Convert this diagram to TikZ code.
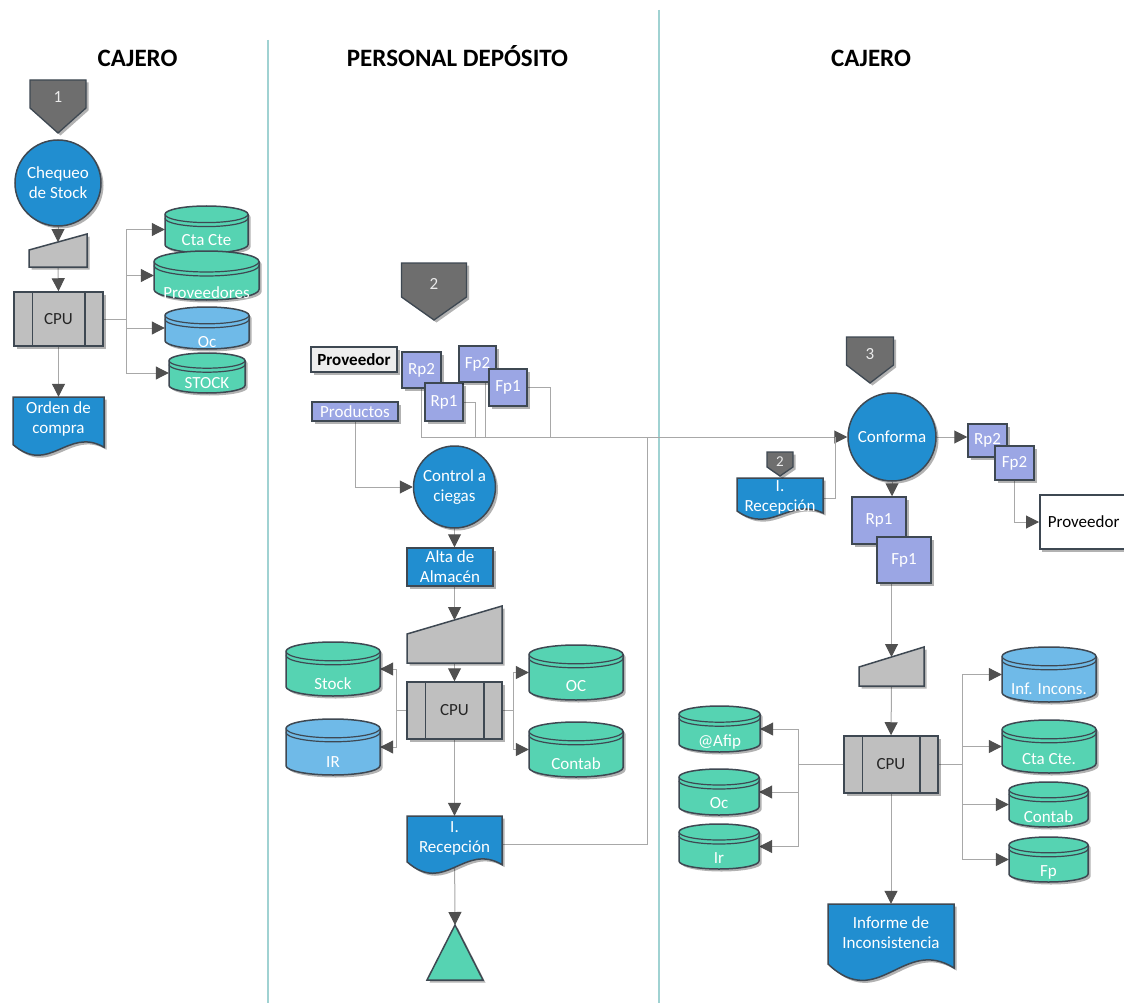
\documentclass[tikz,border=0pt]{standalone}
\usepackage{fontspec}
\setmainfont{Carlito}
\usetikzlibrary{arrows.meta,shadows}
\pgfdeclarelayer{bg}
\pgfsetlayers{bg,main}

\definecolor{procblue}{RGB}{33,142,208}
\definecolor{edge}{RGB}{62,72,82}
\definecolor{mint}{RGB}{86,211,178}
\definecolor{sky}{RGB}{111,186,232}
\definecolor{slab}{RGB}{191,191,191}
\definecolor{lav}{RGB}{155,166,228}
\definecolor{pent}{RGB}{110,110,110}
\definecolor{wire}{RGB}{168,168,168}
\definecolor{tipc}{RGB}{80,80,80}
\definecolor{lane}{RGB}{160,210,210}

\tikzset{
  shd/.style={drop shadow={shadow xshift=2.5pt,shadow yshift=-2.5pt,opacity=.3,fill=black}},
  txt/.style={font=\fontsize{17}{20}\selectfont, align=center},
  proc/.style={circle, draw=edge, line width=1.5pt, fill=procblue, text=white, txt, inner sep=0pt, shd},
  cpubox/.style={rectangle, draw=edge, line width=1.5pt, fill=slab, text=black!85, txt, inner sep=0pt, shd},
  ghost/.style={rectangle, inner sep=0pt, draw=none},
  tag/.style={rectangle, draw=edge, line width=1.5pt, fill=lav, text=white, txt, inner sep=0pt, shd},
  bluebox/.style={rectangle, draw=edge, line width=1.5pt, fill=procblue, text=white, txt, inner sep=0pt, shd},
  wirel/.style={draw=wire, line width=1pt},
  arr/.style={wirel, -{Triangle[length=13pt,width=13pt,color=tipc]}},
  head/.style={font=\fontsize{25}{30}\selectfont\bfseries, anchor=base},
  lanel/.style={draw=lane, line width=1.5pt},
}

% off-page connector: name, cx, top, width, side height, depth, label, font size
\newcommand\offpg[8]{%
  \path[draw=edge, line width=1.3pt, fill=pent, shd]
    ({#2-#4/2},#3) -- ({#2+#4/2},#3) -- ({#2+#4/2},{#3+#5}) -- (#2,{#3+#6})
    -- ({#2-#4/2},{#3+#5}) -- cycle;
  \node[ghost, text=white!92!black, font=\fontsize{#8}{#8}\selectfont] (#1) at (#2,{#3+#5*0.62}) {#7};
}

% manual input: name, left, right, top-left y, top-right y, bottom y
\newcommand\maninput[6]{%
  \path[draw=edge, line width=1.5pt, fill=slab, shd]
    (#2,#4) -- (#3,#5) -- (#3,#6) -- (#2,#6) -- cycle;
  \pgfmathsetmacro\mw{#3-#2}%
  \pgfmathsetmacro\mh{#6-#5}%
  \node[ghost, minimum width=\mw pt, minimum height=\mh pt] (#1) at ({(#2+#3)/2},{(#5+#6)/2}) {};
  \coordinate (#1-in) at ({(#2+#3)/2},{(#4+#5)/2});
}

% disk storage: name, cx, cy, width, height, fill, label, label offset
\newcommand\dbcyl[8]{%
  \pgfmathsetmacro\qL{#2-#4/2}%
  \pgfmathsetmacro\qR{#2+#4/2}%
  \pgfmathsetmacro\qT{#3-#5/2}%
  \pgfmathsetmacro\qB{#3+#5/2}%
  \pgfmathsetmacro\qr{0.1*#4}%
  \pgfmathsetmacro\qk{0.5523*\qr}%
  \pgfmathsetmacro\qkx{0.5523*#4/2}%
  \pgfmathsetmacro\qa{\qT+\qr}%
  \pgfmathsetmacro\qb{\qB-\qr}%
  \pgfmathsetmacro\qc{\qa+4}%
  \path[draw=edge, line width=1.5pt, fill=#6, shd]
    (\qL,\qa) -- (\qL,\qb)
    .. controls (\qL,{\qb+\qk}) and ({#2-\qkx},\qB) .. (#2,\qB)
    .. controls ({#2+\qkx},\qB) and (\qR,{\qb+\qk}) .. (\qR,\qb)
    -- (\qR,\qa)
    .. controls (\qR,{\qa-\qk}) and ({#2+\qkx},\qT) .. (#2,\qT)
    .. controls ({#2-\qkx},\qT) and (\qL,{\qa-\qk}) .. (\qL,\qa) -- cycle;
  \draw[edge, line width=1.2pt]
    (\qL,\qa) .. controls (\qL,{\qa+\qk}) and ({#2-\qkx},{\qa+\qr}) .. (#2,{\qa+\qr})
    .. controls ({#2+\qkx},{\qa+\qr}) and (\qR,{\qa+\qk}) .. (\qR,\qa)
    (\qL,\qc) .. controls (\qL,{\qc+\qk}) and ({#2-\qkx},{\qc+\qr}) .. (#2,{\qc+\qr})
    .. controls ({#2+\qkx},{\qc+\qr}) and (\qR,{\qc+\qk}) .. (\qR,\qc);
  \node[ghost, minimum width=#4pt, minimum height=#5pt] (#1) at (#2,#3) {};
  \node[txt, text=white, inner sep=0pt] (#1-t) at (#2,{#3+#8}) {#7};
}

% document: name, left, top, right, bottom, wave amplitude, label, label y
\newcommand\docshape[8]{%
  \pgfmathsetmacro\dw{#4-#2}%
  \pgfmathsetmacro\dh{#5-#3}%
  \path[draw=edge, line width=1.5pt, fill=procblue, shd]
    (#2,#3) -- (#4,#3) -- (#4,{#5-0.6*#6})
    .. controls ({#2+0.6*\dw},{#5-2.2*#6}) and ({#2+0.4*\dw},{#5+1.6*#6}) .. (#2,{#5-0.8*#6})
    -- cycle;
  \node[ghost, minimum width=\dw pt, minimum height=\dh pt] (#1) at ({(#2+#4)/2},{(#3+#5)/2}) {};
  \node[txt, text=white, inner sep=0pt] (#1-t) at ({(#2+#4)/2},#8) {#7};
}

% predefined process bars
\newcommand\cpubars[1]{%
  \draw[edge, line width=1.5pt]
    ([xshift=19pt]#1.north west) -- ([xshift=19pt]#1.south west)
    ([xshift=-19pt]#1.north east) -- ([xshift=-19pt]#1.south east);
}

\begin{document}
\begin{tikzpicture}[x=1pt,y=-1pt]
\useasboundingbox (0,0) rectangle (1124,1003);

% ---------- headings ----------
\node[head] (h1) at (137.5,67) {CAJERO};
\node[head] (h2) at (457.5,67) {PERSONAL DEPÓSITO};
\node[head] (h3) at (871,67) {CAJERO};

% ---------- first lane: cajero ----------
\offpg{off1}{58}{80}{56}{28}{53}{1}{17}
\node[proc, minimum size=86pt] (chq) at (58,183) {Chequeo\\de Stock};
\maninput{m1}{29}{87}{250}{234}{267}
\node[cpubox, minimum width=89pt, minimum height=54pt] (cpu1) at (58.5,319) {CPU};
\cpubars{cpu1}
\docshape{doc1}{13}{397}{104}{455}{13}{Orden de\\compra}{419}

\dbcyl{ctacte1}{206.5}{229.5}{83}{47}{mint}{Cta Cte}{10.5}
\dbcyl{prov1}{206.5}{275.5}{105}{49}{mint}{Proveedores}{17}
\dbcyl{oc1}{207}{328}{84}{42}{sky}{Oc}{14}
\dbcyl{stock1}{207}{373}{76}{40}{mint}{STOCK}{10}

% ---------- second lane: personal deposito ----------
\offpg{off2}{434}{263}{65}{34}{57}{2}{17}
\node[rectangle, draw=edge, line width=1.5pt, fill=black!7, inner sep=0pt, shd,
      font=\fontsize{17}{20}\selectfont\bfseries, minimum width=86pt, minimum height=25pt]
      (provm) at (354,359.5) {Proveedor};
\node[tag, minimum width=86pt, minimum height=19pt] (prod) at (355,411.5) {Productos};
\node[tag, minimum width=39pt, minimum height=36pt] (rp2m) at (421.5,370) {Rp2};
\node[tag, minimum width=38pt, minimum height=38pt] (rp1m) at (444,402) {Rp1};
\node[tag, minimum width=37pt, minimum height=36pt] (fp2m) at (477.5,364) {Fp2};
\node[tag, minimum width=38pt, minimum height=37pt] (fp1m) at (508,387.5) {Fp1};

\node[proc, minimum size=82pt] (ctrl) at (454.5,487) {Control a\\ciegas};
\node[bluebox, minimum width=86pt, minimum height=38pt] (alta) at (450,567) {Alta de\\Almacén};
\maninput{m2}{407}{502}{634}{606}{663}
\node[cpubox, minimum width=95pt, minimum height=57pt] (cpu2) at (454.5,710.5) {CPU};
\cpubars{cpu2}
\dbcyl{stock2}{333}{669}{94}{54}{mint}{Stock}{15}
\dbcyl{ir2}{333}{747}{94}{56}{sky}{IR}{15}
\dbcyl{oc2}{576}{672.5}{94}{55}{mint}{OC}{14}
\dbcyl{contab2}{576}{749.5}{94}{55}{mint}{Contab}{14}
\docshape{doc2}{407}{816}{502}{873}{14}{I.\\Recepción}{838}
\path[draw=edge, line width=1.5pt, fill=mint, shd] (455,925) -- (483,980) -- (427,980) -- cycle;
\coordinate (tri-top) at (455,925);

% ---------- third lane: cajero ----------
\offpg{off3}{870}{337}{47}{28}{46}{3}{17}
\node[proc, minimum size=88pt] (conf) at (892,437) {Conforma};
\docshape{doc3}{737}{478}{823}{519}{10}{I.\\Recepción}{497}
\offpg{off4}{780}{452}{26}{15}{24}{2}{15}
\node[tag, minimum width=39pt, minimum height=33pt] (rp2r) at (987.5,440.5) {Rp2};
\node[tag, minimum width=39pt, minimum height=34pt] (fp2r) at (1014.5,463) {Fp2};
\begin{scope}
  \clip (0,0) rectangle (1124,1003);
  \node[rectangle, draw=edge, line width=1.7pt, fill=white, shd, txt, anchor=west,
        minimum width=130pt, minimum height=54pt, inner xsep=8pt, text width=114pt, align=left]
        (prov3) at (1039,522) {Proveedor};
\end{scope}
\node[tag, minimum width=54pt, minimum height=47pt] (rp1r) at (879,520.5) {Rp1};
\node[tag, minimum width=54pt, minimum height=46pt] (fp1r) at (904,560) {Fp1};
\maninput{m3}{859}{924}{667}{647}{686}
\node[cpubox, minimum width=94pt, minimum height=57pt] (cpu3) at (891,764.5) {CPU};
\cpubars{cpu3}
\dbcyl{afip}{719.5}{729}{81}{46}{mint}{@Afip}{13}
\dbcyl{oc3}{719}{792}{80}{46}{mint}{Oc}{11}
\dbcyl{ir3}{719}{846.5}{80}{45}{mint}{Ir}{11.5}
\dbcyl{inf}{1049}{674.5}{94}{55}{sky}{Inf. Incons.}{14}
\dbcyl{ctacte3}{1049}{746.5}{94}{53}{mint}{Cta Cte.}{12.5}
\dbcyl{contab3}{1048.5}{804.5}{79}{45}{mint}{Contab}{12}
\dbcyl{fp3}{1048.5}{859.5}{79}{45}{mint}{Fp}{12.5}
\docshape{doc4}{828}{904}{954}{980}{20}{Informe de\\Inconsistencia}{933}

% ---------- page, lane separators and connectors (behind the shapes) ----------
\begin{pgfonlayer}{bg}
  \fill[white] (0,0) rectangle (1124,1003);
  \coordinate (lane1top) at (268,40);
  \coordinate (lane1bot) at (268,1003);
  \coordinate (lane2top) at (659,10);
  \coordinate (lane2bot) at (659,1003);
  \draw[lanel] (lane1top) -- (lane1bot);
  \draw[lanel] (lane2top) -- (lane2bot);

  % first lane
  \draw[arr] (chq.south) -- (m1-in);
  \draw[arr] (m1.south) -- (cpu1.north);
  \draw[arr] (cpu1.south) -- (doc1.north);
  \coordinate (j1) at (126,319);
  \draw[wirel] (cpu1.east) -- (j1);
  \draw[arr] (j1) |- (ctacte1.west);
  \draw[arr] (j1) |- (prov1.west);
  \draw[arr] (j1) |- (oc1.west);
  \draw[arr] (j1) |- (stock1.west);

  % second lane
  \coordinate (b1) at (475,437);
  \coordinate (b2) at (485,437);
  \coordinate (b3) at (550,437);
  \coordinate (b4) at (647,437);
  \coordinate (j3) at (835,437);
  \draw[arr] (rp2m.south) |- (conf.west);
  \draw[wirel] (rp1m.east) -| (b1);
  \draw[wirel] (b2 |- fp2m.south) -- (b2);
  \draw[wirel] (fp1m.east) -| (b3);
  \draw[wirel] (doc2.east) -| (b4);
  \draw[arr] (prod.south) |- (ctrl.west);
  \draw[arr] (ctrl.south) -- (ctrl.south |- alta.north);
  \draw[arr] (alta.south -| m2-in) -- (m2-in);
  \draw[arr] (m2.south) -- (cpu2.north);
  \coordinate (j4) at (396,710.5);
  \coordinate (j5) at (513,710.5);
  \draw[wirel] (cpu2.west) -- (j4);
  \draw[arr] (j4) |- (stock2.east);
  \draw[arr] (j4) |- (ir2.east);
  \draw[wirel] (cpu2.east) -- (j5);
  \draw[arr] (j5) |- (oc2.west);
  \draw[arr] (j5) |- (contab2.west);
  \draw[arr] (cpu2.south) -- (doc2.north);
  \draw[arr] (doc2.center) -- (tri-top);

  % third lane
  \draw[wirel] (doc3.east) -| (j3);
  \draw[arr] (conf.east) -- (conf.east -| rp2r.west);
  \draw[arr] (fp2r.south) |- (prov3.west);
  \draw[arr] (conf.south) -- (conf.south |- rp1r.north);
  \draw[arr] (m3-in |- fp1r.south) -- (m3-in);
  \draw[arr] (m3.south) -- (cpu3.north);
  \coordinate (j6) at (798,764.5);
  \coordinate (j7) at (962,764.5);
  \draw[wirel] (cpu3.west) -- (j6);
  \draw[arr] (j6) |- (afip.east);
  \draw[arr] (j6) |- (oc3.east);
  \draw[arr] (j6) |- (ir3.east);
  \draw[wirel] (cpu3.east) -- (j7);
  \draw[arr] (j7) |- (inf.west);
  \draw[arr] (j7) |- (ctacte3.west);
  \draw[arr] (j7) |- (contab3.west);
  \draw[arr] (j7) |- (fp3.west);
  \draw[arr] (cpu3.south) -- (doc4.north);
\end{pgfonlayer}
\end{tikzpicture}
\end{document}
